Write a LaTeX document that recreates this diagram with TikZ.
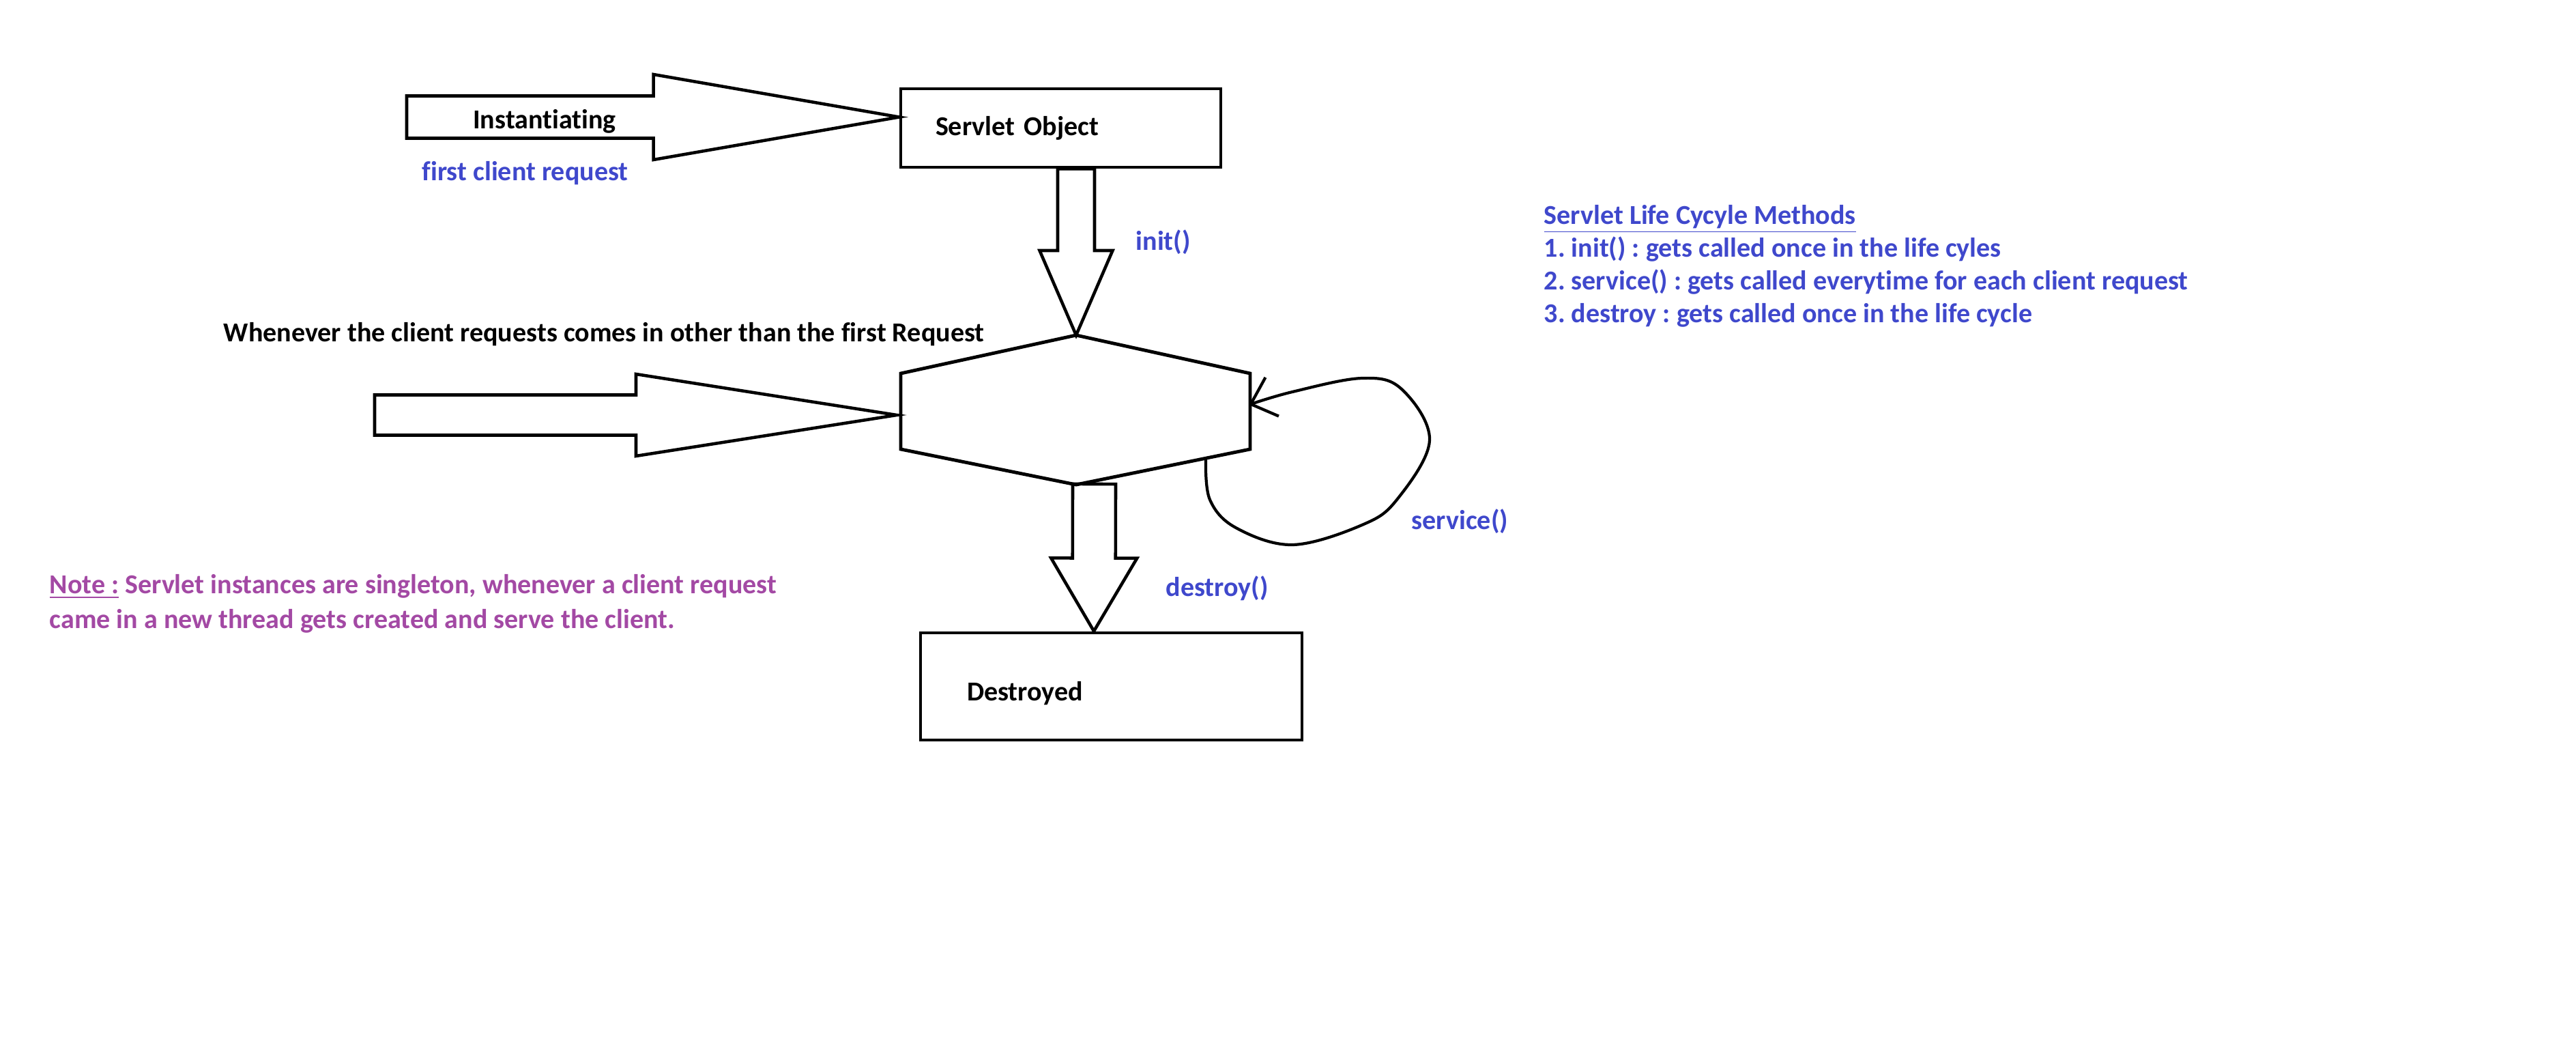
\documentclass[tikz,border=0pt]{standalone}
\usepackage{fontspec}
\setmainfont{Carlito}[Ligatures=NoCommon]
\usepackage{tikz}
\usetikzlibrary{arrows.meta,positioning,calc}
\usepackage{xcolor}
\definecolor{paintblue}{RGB}{63,72,204}
\definecolor{paintpurple}{RGB}{163,73,164}
\frenchspacing

% hollow block arrow: tail, tip, shaft half width, head half width, head length
\newcommand{\blockarrow}[5]{%
  \coordinate (bahead) at ($(#2)!#5!(#1)$);
  \draw[blockline] ($(#1)!#3!90:(#2)$) -- ($(bahead)!#3!90:(#2)$) -- ($(bahead)!#4!90:(#2)$) -- (#2)
    -- ($(bahead)!#4!-90:(#2)$) -- ($(bahead)!#3!-90:(#2)$) -- ($(#1)!#3!-90:(#2)$) -- cycle;
}

\begin{document}
\begin{tikzpicture}[
    every node/.style={font=\fontsize{11.4}{13.7}\selectfont\bfseries},
    statebox/.style={draw, line width=1.4pt, align=left, inner ysep=0pt},
    blockline/.style={line width=1.3pt, line join=miter},
    plainlabel/.style={anchor=west, inner sep=0pt},
    methodlabel/.style={plainlabel, text=paintblue},
    notelabel/.style={plainlabel, text=paintpurple, align=left},
    loopline/.style={line width=1.2pt, line cap=round, line join=round}
  ]
    \useasboundingbox (0,0) rectangle (37.75,15.4);

    \node[statebox, minimum width=4.69cm, minimum height=1.15cm, text width=3.67cm, inner xsep=0.51cm] (obj) at (15.545,13.525) {Servlet Object};
    \node[statebox, minimum width=5.59cm, minimum height=1.57cm, text width=4.23cm, inner xsep=0.68cm, text height=0.5cm, text depth=0.08cm] (dest) at (16.285,5.345) {Destroyed};

    % the running servlet
    \coordinate (hextop) at (15.77,10.49);
    \coordinate (hexul) at (13.20,9.93);
    \coordinate (hexll) at (13.20,8.82);
    \coordinate (hexbot) at (15.77,8.30);
    \coordinate (hexlr) at (18.32,8.82);
    \coordinate (hexur) at (18.32,9.93);
    \draw[line width=1.4pt] (hextop) -- (hexul) -- (hexll) -- (hexbot) -- (hexlr) -- (hexur) -- cycle;

    \coordinate (inststart) at (5.96,13.685);
    \coordinate (insttip) at ([yshift=1.6mm]obj.west);
    \blockarrow{inststart}{insttip}{0.31cm}{0.625cm}{3.6cm}
    \coordinate (reqstart) at (5.49,9.32);
    \coordinate (reqtip) at (13.14,9.32);
    \blockarrow{reqstart}{reqtip}{0.295cm}{0.60cm}{3.82cm}
    \coordinate (inittail) at ([xshift=2.25mm]obj.south);
    \blockarrow{inittail}{hextop}{0.27cm}{0.535cm}{1.24cm}
    \coordinate (desttail) at (16.035,8.31);
    \coordinate (desttip) at ([xshift=-2.55mm]dest.north);
    \blockarrow{desttail}{desttip}{0.315cm}{0.63cm}{1.07cm}

    % service() loop
    \coordinate (loopstart) at (17.67,8.66);
    \coordinate (looptip) at (18.30,9.47);
    \draw[loopline, -{Straight Barb[length=0.33cm, width=0.6cm]}] plot[smooth, tension=0.6] coordinates {(loopstart) (17.73,8.08) (18.11,7.67) (18.94,7.42) (19.96,7.71) (20.47,8.08) (20.95,8.95) (20.54,9.70) (19.96,9.86) (18.94,9.66) (looptip)};

    \node[plainlabel, anchor=center] (insttext) at (7.98,13.62) {Instantiating};
    \node[methodlabel] (firstreq) at (6.18,12.86) {first client request};
    \node[methodlabel] (initlbl) at (16.64,11.85) {init()};
    \node[plainlabel] (otherreq) at (3.27,10.50) {Whenever the client requests comes in other than the first Request};
    \node[methodlabel] (servlbl) at (20.68,7.76) {service()};
    \node[methodlabel] (destlbl) at (17.08,6.78) {destroy()};

    \node[notelabel, font=\fontsize{11.4}{14.5}\selectfont\bfseries] (note) at (0.72,6.555) {\underline{Note :} Servlet instances are singleton, whenever a client request\\came in a new thread gets created and serve the client.};
    \node[methodlabel, align=left] (methods) at (22.62,11.50) {\underline{Servlet Life Cycyle Methods}\\1. init() : gets called once in the life cyles\\2. service() : gets called everytime for each client request\\3. destroy : gets called once in the life cycle};
\end{tikzpicture}
\end{document}
